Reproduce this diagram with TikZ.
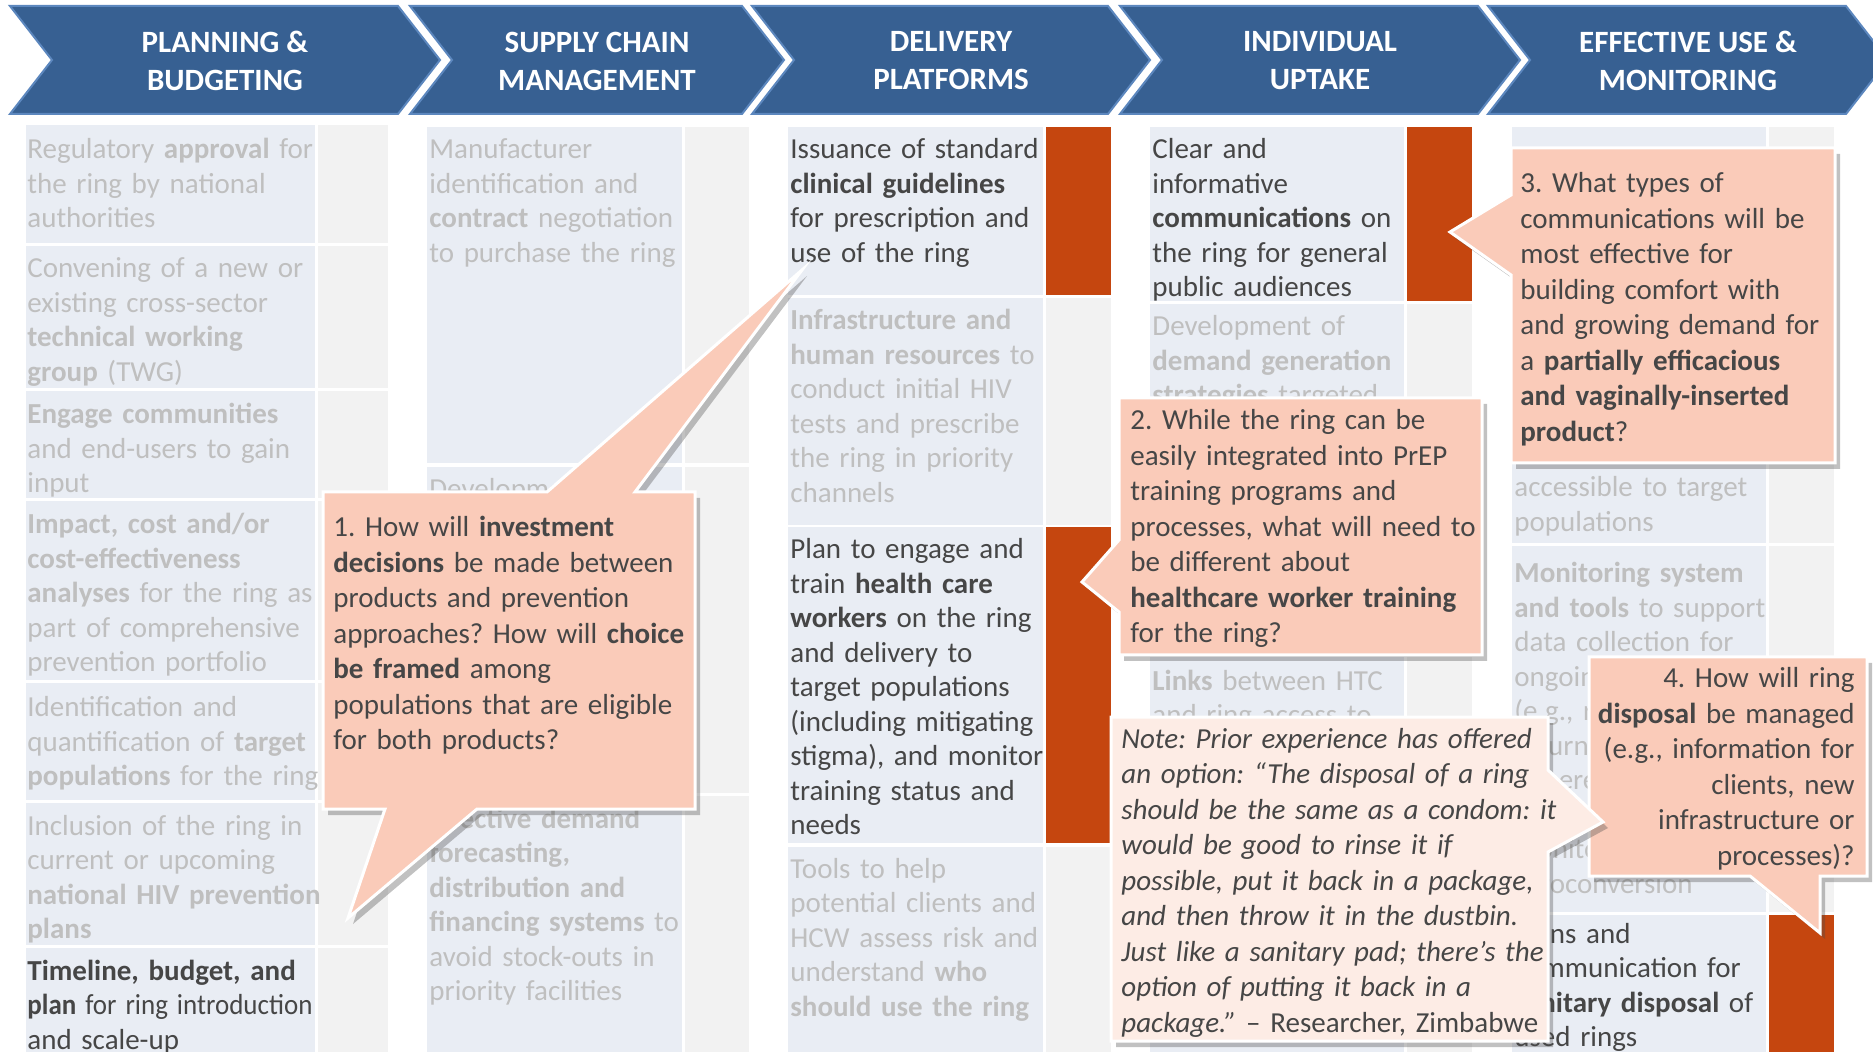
\documentclass[tikz,border=0pt]{standalone}
\usepackage{fontspec}
\usepackage{graphicx}
\setmainfont{Carlito}
\usetikzlibrary{shadows}
\frenchspacing

\definecolor{stageblue}{RGB}{55,96,146}
\definecolor{stageedge}{RGB}{92,135,190}
\definecolor{cellblue}{RGB}{233,237,244}
\definecolor{cellgrey}{RGB}{242,242,242}
\definecolor{flagorange}{RGB}{197,70,15}
\definecolor{bubblefill}{RGB}{250,203,185}
\definecolor{notefill}{RGB}{253,236,229}
\definecolor{inktext}{RGB}{70,70,70}
\definecolor{dimtext}{RGB}{191,191,191}

\begin{document}
\begin{tikzpicture}[x=0.5pt, y=-0.5pt,
  stage/.style={fill=stageblue, draw=stageedge, line width=1pt, line join=miter},
  stagetext/.style={text=white, align=center, font=\fontsize{15.5}{19}\selectfont\bfseries},
  cell/.style={anchor=base west, inner sep=0pt, text width=180pt, align=left, font=\fontsize{14.5}{17.25}\selectfont},
  dim/.style={cell, text=dimtext},
  ink/.style={cell, text=inktext},
  bubble/.style={fill=bubblefill, draw=white, line width=1.5pt, line join=miter,
    drop shadow={shadow xshift=2.5pt, shadow yshift=-3pt, opacity=.35, fill=black!70}},
  notebox/.style={bubble, fill=notefill},
  qtext/.style={anchor=base west, inner sep=0pt, text width=200pt, align=left, text=inktext, font=\fontsize{14.5}{17.75}\selectfont}]
\useasboundingbox (0,0) rectangle (1873,1052);

% Stage chevrons
\foreach \l/\r/\nm/\txt in {10/398/hplan/{PLANNING \&\\BUDGETING}, 410/742/hsupply/{SUPPLY CHAIN\\MANAGEMENT},
    752/1108/hdeliv/{DELIVERY\\PLATFORMS}, 1120/1478/huptake/{INDIVIDUAL\\UPTAKE}, 1488/1846/huse/{EFFECTIVE USE \&\\MONITORING}} {
  \draw[stage] (\l,6) -- (\r,6) -- (\r+42,60) -- (\r,114) -- (\l,114) -- (\l+42,60) -- cycle;
  \node[stagetext] (\nm) at ({(\l+\r+42)/2},61) {\txt};
}

% Table cells: text column, then flag column
\foreach \xa/\xb/\xc/\t/\b/\f in {
    26/315/388/125/243/cellgrey, 26/315/388/246/388/cellgrey, 26/315/388/391/498/cellgrey,
    26/315/388/501/680/cellgrey, 26/315/388/683/800/cellgrey, 26/315/388/803/945/cellgrey,
    26/315/388/948/1052/cellgrey,
    427/682/749/127/463/cellgrey, 427/682/749/467/793/cellgrey, 427/682/749/796/1052/cellgrey,
    788/1043/1111/127/295/flagorange, 788/1043/1111/298/525/cellgrey,
    788/1043/1111/527/843/flagorange, 788/1043/1111/847/1052/cellgrey,
    1150/1404/1472/127/301/flagorange, 1150/1404/1472/304/654/cellgrey, 1150/1404/1472/657/1052/cellgrey,
    1512/1766/1834/127/543/cellgrey, 1512/1766/1834/546/912/cellgrey, 1512/1766/1834/915/1052/flagorange} {
  \fill[cellblue] (\xa,\t) rectangle (\xb,\b);
  \fill[\f] (\xb+3,\t) rectangle (\xc,\b);
}

% Planning & budgeting
\node[dim] (plan1) at (27,159) {Regulatory \textbf{approval} for\\the ring by national\\authorities};
\node[dim] (plan2) at (27,278) {Convening of a new or\\existing cross-sector\\\textbf{technical working}\\\textbf{group} (TWG)};
\node[dim] (plan3) at (27,424) {\textbf{Engage communities}\\and end-users to gain\\input};
\node[dim] (plan4) at (27,534) {\textbf{Impact, cost and/or}\\\textbf{cost-effectiveness}\\\textbf{analyses} for the ring as\\part of comprehensive\\prevention portfolio};
\node[dim] (plan5) at (27,717) {Identification and\\quantification of \textbf{target}\\\textbf{populations} for the ring};
\node[dim] (plan6) at (27,835) {Inclusion of the ring in\\current or upcoming\\\textbf{national HIV prevention}\\\textbf{plans}};
\node[ink] (plan7) at (27,980) {\textbf{Timeline, budget, and}\\\scalebox{0.93}[1]{\textbf{plan} for ring introduction}\\and scale-up};

% Supply chain management
\node[dim] (supply1) at (429,159) {Manufacturer\\identification and\\\textbf{contract} negotiation\\to purchase the ring};
\node[dim] (supply2) at (429,499) {Development};
\node[dim] (supply3) at (429,828) {\textbf{Effective demand}\\\textbf{forecasting,}\\\textbf{distribution and}\\\textbf{financing systems} to\\avoid stock-outs in\\priority facilities};

% Delivery platforms
\node[ink] (deliv1) at (790,159) {Issuance of standard\\\textbf{clinical guidelines}\\for prescription and\\use of the ring};
\node[dim] (deliv2) at (790,330) {\textbf{Infrastructure and}\\\textbf{human resources} to\\conduct initial HIV\\tests and prescribe\\the ring in priority\\channels};
\node[ink] (deliv3) at (790,559) {Plan to engage and\\train \textbf{health care}\\\textbf{workers} on the ring\\and delivery to\\target populations\\(including mitigating\\stigma), and monitor\\training status and\\needs};
\node[dim] (deliv4) at (790,878) {Tools to help\\potential clients and\\HCW assess risk and\\understand \textbf{who}\\\textbf{should use the ring}};

% Individual uptake
\node[ink] (uptake1) at (1152,159) {Clear and\\informative\\\textbf{communications} on\\the ring for general\\public audiences};
\node[dim] (uptake2) at (1152,336) {Development of\\\textbf{demand generation}\\\textbf{strategies} targeted};
\node[dim] (uptake3) at (1152,690) {\textbf{Links} between HTC\\and ring access to};

% Effective use & monitoring
\node[dim] (use1) at (1514,497) {accessible to target\\populations};
\node[dim] (use2) at (1514,583) {\textbf{Monitoring system}\\\textbf{and tools} to support\\data collection for\\ongoing\\(e.g., ring\\return,\\adherence,\\\mbox{}\\monitoring\\seroconversion};
\node[ink] (use3) at (1514,943) {Plans and\\communication for\\\textbf{sanitary disposal} of\\used rings};

% Question 1
\filldraw[bubble] (323,492) -- (547,492) -- (802,270) -- (635,492) -- (695,492) -- (695,809)
  -- (477,809) -- (348,918) -- (385,809) -- (323,809) -- cycle;
\node[qtext] (q1) at (333,537) {1. How will \textbf{investment}\\\textbf{decisions} be made between\\products and prevention\\approaches? How will \textbf{choice}\\\textbf{be framed} among\\populations that are eligible\\for both products?};

% Question 2
\filldraw[bubble] (1119,398) -- (1482,398) -- (1482,655) -- (1119,655) -- (1119,612) -- (1082,582) -- (1119,540) -- cycle;
\node[qtext] (q2) at (1130,430) {2. While the ring can be\\easily integrated into PrEP\\training programs and\\processes, what will need to\\be different about\\\textbf{healthcare worker training}\\for the ring?};

% Question 3
\filldraw[bubble] (1511,148) -- (1835,148) -- (1835,463) -- (1511,463) -- (1511,275) -- (1450,232) -- (1511,195) -- cycle;
\node[qtext] (q3) at (1520,193) {3. What types of\\communications will be\\most effective for\\building comfort with\\and growing demand for\\a \textbf{partially efficacious}\\\textbf{and vaginally-inserted}\\\textbf{product}?};

% Question 4
\filldraw[bubble] (1589,657) -- (1867,657) -- (1867,876) -- (1820,876) -- (1820,933) -- (1750,876) -- (1589,876) -- cycle;
\node[qtext, anchor=base east, text width=140pt, align=right] (q4) at (1855,688) {4. How will ring\\\textbf{disposal} be managed\\(e.g., information for\\clients, new\\infrastructure or\\processes)?};

% Quote note
\filldraw[notebox] (1111,717) -- (1548,717) -- (1548,770) -- (1603,822) -- (1548,852) -- (1548,1041) -- (1111,1041) -- cycle;
\node[qtext, text width=220pt] (note) at (1121,748) {\itshape Note: Prior experience has offered\\an option: “The disposal of a ring\\should be the same as a condom: it\\would be good to rinse it if\\possible, put it back in a package,\\and then throw it in the dustbin.\\Just like a sanitary pad; there’s the\\option of putting it back in a\\package.” \upshape – Researcher, Zimbabwe};
\end{tikzpicture}
\end{document}
